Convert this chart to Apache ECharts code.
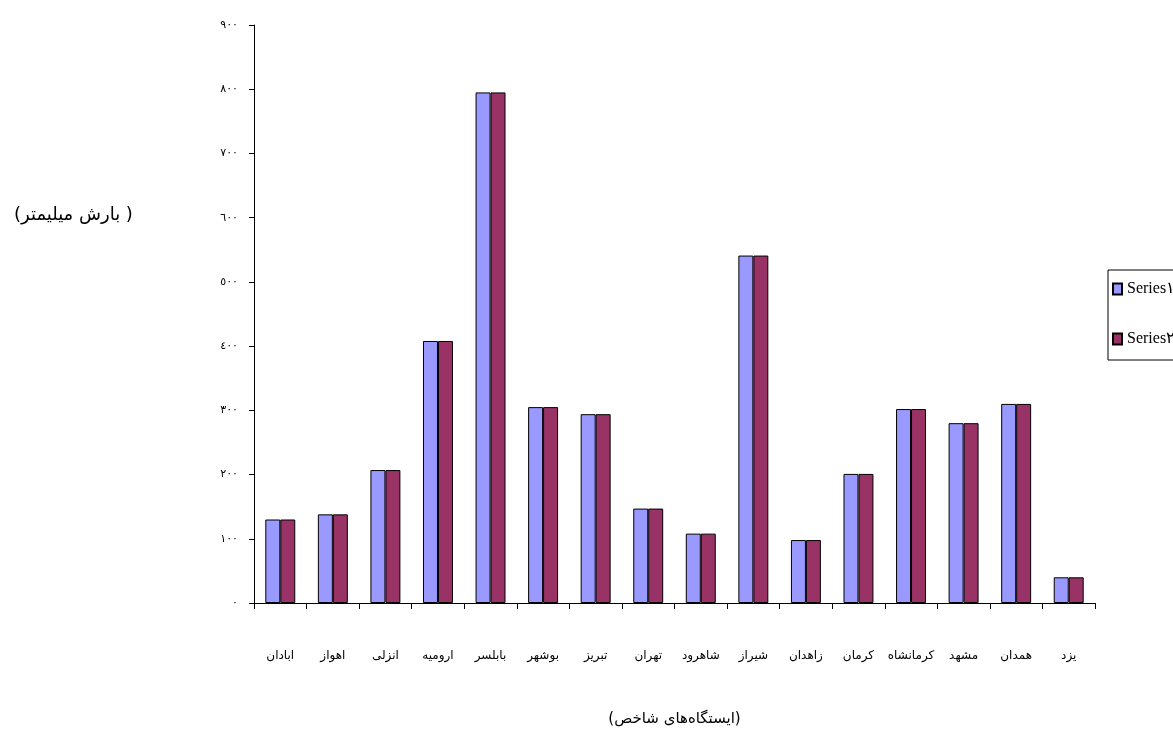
<!DOCTYPE html>
<html>
<head>
<meta charset="utf-8">
<script src="https://cdn.jsdelivr.net/npm/echarts@6/dist/echarts.min.js"></script>
<style>
html,body{margin:0;padding:0;background:#fff;}
#c{width:1173px;height:752px;}
</style>
</head>
<body>
<div id="c"></div>
<script>
const categories = ['ابادان','اهواز','انزلی','ارومیه','بابلسر','بوشهر','تبریز','تهران','شاهرود','شیراز','زاهدان','کرمان','کرمانشاه','مشهد','همدان','یزد'];
const series1 = [130,138,207,408,795,305,294,147,108,541,98,201,302,280,310,40];
const series2 = [130,138,207,408,795,305,294,147,108,541,98,201,302,280,310,40];
const yTickLabels = ['٠','١٠٠','٢٠٠','٣٠٠','٤٠٠','٥٠٠','٦٠٠','٧٠٠','٨٠٠','٩٠٠'];
const seriesNames = ['Series١','Series٢'];

const chart = echarts.init(document.getElementById('c'));
chart.setOption({
  animation: false,
  backgroundColor: '#fff',
  grid: {left: 254, right: 78, top: 25, bottom: 149, containLabel: false},
  legend: {
    orient: 'vertical',
    left: 1108, top: 270,
    icon: 'rect',
    itemWidth: 9, itemHeight: 11,
    itemGap: 34,
    padding: [11, 30, 13, 4],
    borderColor: '#000', borderWidth: 1,
    textStyle: {fontFamily: 'Liberation Serif', fontSize: 16, color: '#000'},
    data: seriesNames
  },
  xAxis: {
    type: 'category',
    data: categories,
    boundaryGap: true,
    axisLine: {lineStyle: {color: '#000', width: 1}},
    axisTick: {show: true, alignWithLabel: false, length: 6, lineStyle: {color: '#000'}},
    axisLabel: {fontFamily: 'DejaVu Sans', fontSize: 12, color: '#000', margin: 47, interval: 0},
    name: '(ایستگاه‌های شاخص)',
    nameLocation: 'middle',
    nameGap: 109,
    nameTextStyle: {fontFamily: 'DejaVu Sans', fontSize: 15, color: '#000'}
  },
  yAxis: {
    type: 'value',
    min: 0, max: 900, interval: 100,
    axisLine: {show: true, lineStyle: {color: '#000', width: 1}},
    axisTick: {show: true, length: 5, lineStyle: {color: '#000'}},
    splitLine: {show: false},
    axisLabel: {
      fontFamily: 'DejaVu Sans', fontSize: 11, color: '#000', margin: 16,
      formatter: v => yTickLabels[Math.round(v / 100)]
    }
  },
  graphic: [{
    type: 'text', left: 14, top: 206,
    style: {text: '(بارش میلیمتر )', font: '18px "DejaVu Sans"', fill: '#000'}
  }],
  series: [
    {name: seriesNames[0], type: 'bar', data: series1, barGap: '0%', barCategoryGap: '43%',
     itemStyle: {color: '#9999FF', borderColor: '#000', borderWidth: 1}},
    {name: seriesNames[1], type: 'bar', data: series2, barGap: '0%', barCategoryGap: '43%',
     itemStyle: {color: '#993366', borderColor: '#000', borderWidth: 1}}
  ]
});
</script>
</body>
</html>
